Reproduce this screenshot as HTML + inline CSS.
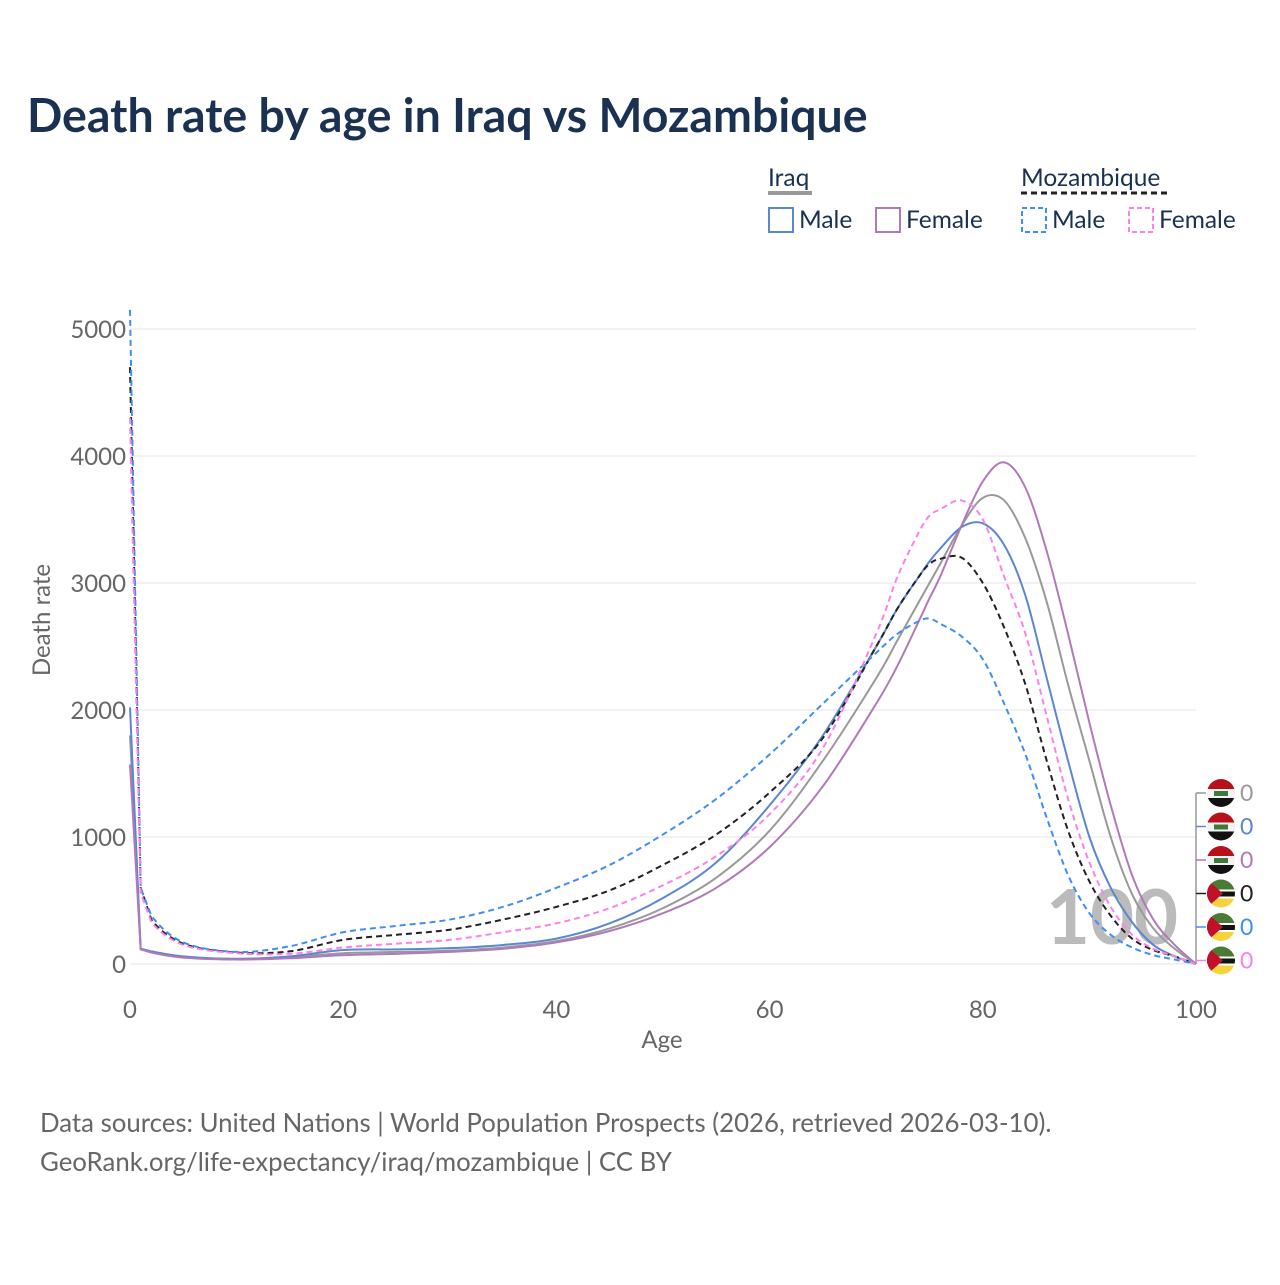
<!DOCTYPE html>
<html><head><meta charset="utf-8"><style>
body{margin:0;background:#fff;font-family:"Liberation Sans",sans-serif}
svg text{font-family:"Lato","Liberation Sans",sans-serif}
</style></head><body>
<svg width="1280" height="1280" viewBox="0 0 1280 1280">
<defs><clipPath id="fc"><circle cx="0" cy="0" r="14"/></clipPath></defs>
<text x="27" y="132" font-size="46.5" font-weight="bold" fill="#1b3152">Death rate by age in Iraq vs Mozambique</text>
<g font-size="24.5" fill="#1b3152">
<text x="768" y="186">Iraq</text>
<line x1="768" y1="193" x2="812" y2="193" stroke="#999" stroke-width="4"/>
<text x="1021" y="186">Mozambique</text>
<line x1="1021" y1="193" x2="1170" y2="193" stroke="#222" stroke-width="3" stroke-dasharray="6,4"/>
<rect x="769" y="208" width="24" height="24" fill="none" stroke="#5b86d0" stroke-width="2"/>
<text x="799" y="228">Male</text>
<rect x="876" y="208" width="24" height="24" fill="none" stroke="#b07ab8" stroke-width="2"/>
<text x="906" y="228">Female</text>
<rect x="1022" y="208" width="24" height="24" fill="none" stroke="#3f8ef5" stroke-width="2" stroke-dasharray="5,3"/>
<text x="1052" y="228">Male</text>
<rect x="1129" y="208" width="24" height="24" fill="none" stroke="#ff80ea" stroke-width="2" stroke-dasharray="5,3"/>
<text x="1159" y="228">Female</text>
</g>
<g id="grid"></g>
<text x="1112" y="944" font-size="76" font-weight="bold" fill="#bbb" text-anchor="middle">100</text>
<g id="series"></g>
<g id="ends"></g>
<text transform="translate(50,620) rotate(-90)" font-size="24" fill="#666" text-anchor="middle">Death rate</text>
<text x="662" y="1048" font-size="24" fill="#666" text-anchor="middle">Age</text>
<text x="40" y="1132" font-size="25.8" fill="#666">Data sources: United Nations | World Population Prospects (2026, retrieved 2026-03-10).</text>
<text x="40" y="1171" font-size="25.8" fill="#666">GeoRank.org/life-expectancy/iraq/mozambique | CC BY</text>
</svg>
<script>
const ages=[0,1,2,5,10,15,20,25,30,35,40,45,50,55,60,65,70,72,74,75,76,78,80,82,84,86,88,90,92,94,96,98,100];
const iraqTotal=[1800,118,95,55,40,55,85,95,105,130,180,280,440,680,1050,1600,2250,2550,2850,3000,3150,3450,3670,3650,3350,2850,2200,1600,1000,550,280,120,0];
const iraqMale=[2020,120,100,60,40,60,110,115,125,150,200,320,520,800,1250,1800,2500,2800,3050,3170,3270,3440,3470,3300,2900,2250,1600,1000,600,330,150,60,0];
const iraqFemale=[1570,115,90,50,35,45,70,80,95,120,170,260,400,600,920,1400,2050,2350,2700,2880,3050,3450,3800,3950,3750,3250,2600,1900,1250,700,350,150,0];
const mozTotal=[4700,600,350,160,90,100,190,230,270,350,450,580,780,1020,1350,1780,2500,2800,3050,3150,3190,3200,3000,2650,2200,1600,1050,650,380,200,110,60,0];
const mozMale=[5150,600,380,170,95,140,250,300,350,450,600,780,1020,1300,1650,2050,2450,2600,2700,2720,2680,2580,2400,2050,1650,1150,700,400,230,130,70,35,0];
const mozFemale=[4300,560,330,150,85,80,130,160,190,250,320,440,620,850,1180,1700,2600,3050,3400,3530,3580,3650,3500,3050,2600,1950,1300,800,450,230,120,60,0];
const yTicks=[0,1000,2000,3000,4000,5000];
const xTicks=[0,20,40,60,80,100];
const NS="http://www.w3.org/2000/svg";
const X=a=>130+a*10.66, Y=v=>964-v*0.127;
const grid=document.getElementById('grid');
function mk(t,at,p){const e=document.createElementNS(NS,t);for(const k in at)e.setAttribute(k,at[k]);p.appendChild(e);return e;}
yTicks.forEach(v=>{
 const l=mk('line',{x1:130,x2:1196,y1:Y(v),y2:Y(v),stroke:'#e6e6e6','stroke-width':1},grid);
 
 
 const t=mk('text',{x:126,y:Y(v)+9,'font-size':24,fill:'#666','text-anchor':'end'},grid);
 t.textContent=v;
 
 
});
xTicks.forEach(a=>{
 const t=mk('text',{x:X(a),y:1018,'font-size':24,fill:'#666','text-anchor':'middle'},grid);
 t.textContent=a;
 
 
});
function smooth(P){
 let d='M'+P[0][0]+','+P[0][1];
 for(let i=0;i<P.length-1;i++){
  const p0=P[i-1]||P[i],p1=P[i],p2=P[i+1],p3=P[i+2]||p2;
  const t=1/6;
  let c1=[p1[0]+(p2[0]-p0[0])*t,p1[1]+(p2[1]-p0[1])*t];
  let c2=[p2[0]-(p3[0]-p1[0])*t,p2[1]-(p3[1]-p1[1])*t];
  if(i<2){c1=p1;c2=p2;}
  d+=' C'+c1[0]+','+c1[1]+' '+c2[0]+','+c2[1]+' '+p2[0]+','+p2[1];
 }
 return d;
}
const series=[[iraqTotal,'#999','','iraq-total-line'],[iraqMale,'#5b86d0','','iraq-male-line'],[iraqFemale,'#b07ab8','','iraq-female-line'],[mozTotal,'#222','6,4','mozambique-total-line'],[mozMale,'#3f8ef5','6,4','mozambique-male-line'],[mozFemale,'#ff80ea','6,4','mozambique-female-line']];
const sg=document.getElementById('series');
series.forEach(s=>{
 const P=ages.map((a,i)=>[X(a),Y(s[0][i])]);
 const p=mk('path',{d:smooth(P),fill:'none',stroke:s[1],'stroke-width':2,'stroke-dasharray':s[2]||'none','stroke-linejoin':'round'},sg);
 
 
});
const eg=document.getElementById('ends');
mk('line',{x1:1196,x2:1196,y1:793,y2:964,stroke:'#999','stroke-width':1.5},eg);
series.forEach((s,i)=>{
 const y=793+i*33.5;
 mk('line',{x1:1196,x2:1206,y1:y,y2:y,stroke:s[1],'stroke-width':1.5},eg);
 const g=mk('g',{transform:`translate(1221,${y})`,'clip-path':'url(#fc)'},eg);
 
 
 if(i<3){
  mk('rect',{x:-14,y:-14,width:28,height:10,fill:'#b5121b'},g);
  mk('rect',{x:-14,y:-4,width:28,height:9,fill:'#f2f2f2'},g);
  mk('rect',{x:-14,y:5,width:28,height:10,fill:'#111'},g);
  mk('rect',{x:-7,y:-2,width:14,height:5,fill:'#3d7a3a'},g);
 }else{
  mk('rect',{x:-14,y:-14,width:28,height:10,fill:'#4a7a33'},g);
  mk('rect',{x:-14,y:-4,width:28,height:9,fill:'#fff'},g);
  mk('rect',{x:-14,y:-2,width:28,height:5,fill:'#111'},g);
  mk('rect',{x:-14,y:5,width:28,height:10,fill:'#f6d33c'},g);
  mk('path',{d:'M-14,-14 L2,0 L-14,14 Z',fill:'#c0102a'},g);
 }
 const t=mk('text',{x:1240,y:y+8,'font-size':23,fill:s[1]},eg);
 t.textContent='0';
 
 
});
</script>
</body></html>
